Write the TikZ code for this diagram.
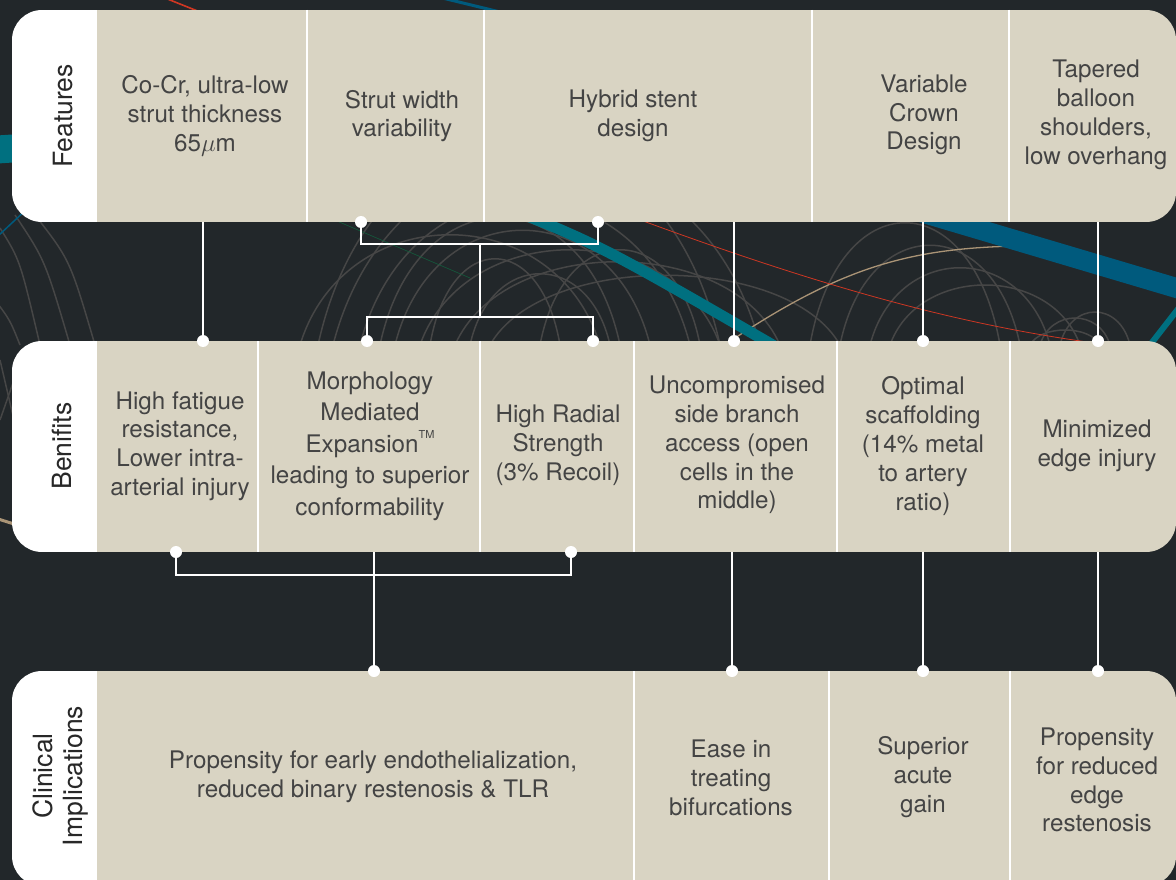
\documentclass[tikz,border=0pt]{standalone}
\usepackage{fontspec}
\setmainfont{TeX Gyre Heros}
\definecolor{bgc}{RGB}{34,39,42}
\definecolor{beigec}{RGB}{217,212,195}
\definecolor{txtc}{RGB}{68,68,68}
\definecolor{lblc}{RGB}{40,40,40}
\definecolor{arcc}{RGB}{70,70,70}
\definecolor{decoteal}{RGB}{0,112,128}
\definecolor{decoblue}{RGB}{0,90,125}
\definecolor{decored}{RGB}{205,55,35}
\definecolor{decotan}{RGB}{170,148,118}
\definecolor{decogreen}{RGB}{20,90,60}
\tikzset{
  cell/.style={rectangle, fill=beigec, draw=none, inner sep=0, anchor=north west},
  lcell/.style={rectangle, fill=white, draw=none, inner sep=0, anchor=north west},
  celltext/.style={text=txtc, font=\fontsize{24.2}{28.8}\selectfont, align=center, inner sep=0},
  bandlabel/.style={text=lblc, font=\fontsize{26.5}{30}\selectfont, rotate=90, align=center, inner sep=0},
  conn/.style={draw=white, line width=2.4pt},
  divider/.style={draw=white, line width=2pt},
  dotnode/.style={circle, fill=white, draw=none, inner sep=0, minimum size=12pt},
  decoarc/.style={draw=arcc, line width=1.5pt},
}
\begin{document}
\begin{tikzpicture}[x=1pt,y=-1pt]
\useasboundingbox (0,0) rectangle (1176,880);
\fill[bgc] (0,0) rectangle (1176,880);

% ---------- background decoration ----------
\begin{scope}
\clip (0,0) rectangle (1176,880);
\foreach \a/\b/\c in {318/720/72, 333/760/98, 360/690/152, 395/650/192, 420/720/218,
                      455/780/234, 490/840/252, 540/700/218, 300/600/198, 430/560/230,
                      380/620/175, 470/610/250,
                      810/1000/182, 840/1020/212, 870/1050/242, 890/1080/265,
                      1040/1110/309, 1060/1130/301, 1030/1100/325}
  {\draw[decoarc] (\a,345) .. controls ({\a+(\b-\a)*0.15},\c) and ({\b-(\b-\a)*0.15},\c) .. (\b,345);}
\draw[decoarc] (0,228) .. controls (20,260) .. (40,345);
\draw[decoarc] (15,215) .. controls (45,260) .. (70,345);
\draw[decoarc] (35,215) .. controls (70,260) .. (95,345);
\draw[decoarc] (-5,300) .. controls (10,320) .. (20,345);
\draw[decoarc] (0,360) -- (14,420);
\draw[decoarc] (0,420) -- (14,380);
\draw[decotan, line width=1.3pt] (720,348) .. controls (850,260) and (920,244) .. (1060,246);
\draw[decoteal, line width=11pt] (500,205) .. controls (600,245) .. (790,355);
\draw[decoteal, line width=28pt] (-10,150) -- (20,148);
\draw[decoteal, line width=6pt] (1150,345) -- (1185,300);
\draw[decoblue, line width=20pt] (880,200) -- (1200,295);
\draw[decoblue, line width=3pt] (430,-5) -- (500,12);
\draw[decoblue, line width=1.5pt] (-2,236) -- (28,208);
\draw[decored, line width=1.6pt] (160,-4) -- (200,12);
\draw[decored, line width=0.8pt] (600,205) .. controls (800,280) and (950,325) .. (1110,345);
\draw[decogreen, line width=0.6pt] (330,218) -- (470,278);
\draw[decotan, line width=3pt] (-5,518) -- (14,524);
\end{scope}

% ---------- Features band ----------
\begin{scope}
\clip[rounded corners=30] (12,10) rectangle (1176,222);
\node[lcell, minimum width=85, minimum height=212] (fL) at (12,10) {};
\node[cell, minimum width=210, minimum height=212] (f1) at (97,10) {};
\node[cell, minimum width=177, minimum height=212] (f2) at (307,10) {};
\node[cell, minimum width=328, minimum height=212] (f3) at (484,10) {};
\node[cell, minimum width=197, minimum height=212] (f4) at (812,10) {};
\node[cell, minimum width=167, minimum height=212] (f5) at (1009,10) {};
\draw[divider] (f1.north east) -- (f1.south east);
\draw[divider] (f2.north east) -- (f2.south east);
\draw[divider] (f3.north east) -- (f3.south east);
\draw[divider] (f4.north east) -- (f4.south east);
\end{scope}
\node[bandlabel] (fLt) at (63,116) {Features};
\node[celltext] (f1t) at (205,116) {Co-Cr, ultra-low\\strut thickness\\65$\mu$m};
\node[celltext] (f2t) at (402,116) {Strut width\\variability};
\node[celltext] (f3t) at (633,116) {Hybrid stent\\design};
\node[celltext] (f4t) at (924,115) {Variable\\Crown\\Design};
\node[celltext] (f5t) at (1096,115) {Tapered\\balloon\\shoulders,\\low overhang};

% ---------- Benefits band ----------
\begin{scope}
\clip[rounded corners=30] (12,341) rectangle (1176,552);
\node[lcell, minimum width=85, minimum height=211] (bL) at (12,341) {};
\node[cell, minimum width=161, minimum height=211] (b1) at (97,341) {};
\node[cell, minimum width=222, minimum height=211] (b2) at (258,341) {};
\node[cell, minimum width=154, minimum height=211] (b3) at (480,341) {};
\node[cell, minimum width=203, minimum height=211] (b4) at (634,341) {};
\node[cell, minimum width=173, minimum height=211] (b5) at (837,341) {};
\node[cell, minimum width=166, minimum height=211] (b6) at (1010,341) {};
\draw[divider] (b1.north east) -- (b1.south east);
\draw[divider] (b2.north east) -- (b2.south east);
\draw[divider] (b3.north east) -- (b3.south east);
\draw[divider] (b4.north east) -- (b4.south east);
\draw[divider] (b5.north east) -- (b5.south east);
\end{scope}
\node[bandlabel] (bLt) at (62,446) {Benifits};
\node[celltext] (b1t) at (180,446) {High fatigue\\resistance,\\Lower intra-\\arterial injury};
\node[celltext, font=\fontsize{24.2}{31.5}\selectfont] (b2t) at (370,446) {Morphology\\Mediated\\Expansion\raisebox{0.55em}{\fontsize{11}{11}\selectfont TM}\\leading to superior\\conformability};
\node[celltext] (b3t) at (558,445) {High Radial\\Strength\\(3\% Recoil)};
\node[celltext] (b4t) at (737,445) {Uncompromised\\side branch\\access (open\\cells in the\\middle)};
\node[celltext] (b5t) at (923,446) {Optimal\\scaffolding\\(14\% metal\\to artery\\ratio)};
\node[celltext] (b6t) at (1097,446) {Minimized\\edge injury};

% ---------- Clinical band ----------
\begin{scope}
\clip[rounded corners=30] (12,671) rectangle (1176,886);
\node[lcell, minimum width=85, minimum height=215] (cL) at (12,671) {};
\node[cell, minimum width=537, minimum height=215] (c1) at (97,671) {};
\node[cell, minimum width=195, minimum height=215] (c2) at (634,671) {};
\node[cell, minimum width=181, minimum height=215] (c3) at (829,671) {};
\node[cell, minimum width=166, minimum height=215] (c4) at (1010,671) {};
\draw[divider] (c1.north east) -- (c1.south east);
\draw[divider] (c2.north east) -- (c2.south east);
\draw[divider] (c3.north east) -- (c3.south east);
\end{scope}
\node[bandlabel] (cLt) at (60,776) {Clinical\\Implications};
\node[celltext] (c1t) at (373,777) {Propensity for early endothelialization,\\reduced binary restenosis \& TLR};
\node[celltext] (c2t) at (731,778) {Ease in\\treating\\bifurcations};
\node[celltext] (c3t) at (923,777) {Superior\\acute\\gain};
\node[celltext] (c4t) at (1097,780) {Propensity\\for reduced\\edge\\restenosis};

% ---------- connectors Features -> Benefits ----------
\coordinate (fa1) at (203,222);
\coordinate (fa4) at (734,222);
\coordinate (fa5) at (923,222);
\coordinate (fa6) at (1098,222);
\node[dotnode] (ba1) at (203,341) {};
\node[dotnode] (ba4) at (734,341) {};
\node[dotnode] (ba5) at (923,341) {};
\node[dotnode] (ba6) at (1098,341) {};
\draw[conn] (fa1) -- (ba1.center);
\draw[conn] (fa4) -- (ba4.center);
\draw[conn] (fa5) -- (ba5.center);
\draw[conn] (fa6) -- (ba6.center);

\node[dotnode] (s1) at (361,222) {};
\node[dotnode] (s2) at (598,222) {};
\coordinate (j1) at (480,244);
\coordinate (j2) at (480,317);
\node[dotnode] (t1) at (367,341) {};
\node[dotnode] (t2) at (593,341) {};
\draw[conn] (s1.center) |- (j1) -| (s2.center);
\draw[conn] (j1) -- (j2);
\draw[conn] (t1.center) |- (j2) -| (t2.center);

% ---------- connectors Benefits -> Clinical ----------
\node[dotnode] (u1) at (176,552) {};
\node[dotnode] (u2) at (571,552) {};
\coordinate (k1) at (374,575);
\coordinate (k0) at (374,552);
\node[dotnode] (ca1) at (374,671) {};
\draw[conn] (u1.center) |- (k1) -| (u2.center);
\draw[conn] (k0) -- (ca1.center);
\coordinate (bb4) at (732,552);
\coordinate (bb5) at (923,552);
\coordinate (bb6) at (1098,552);
\node[dotnode] (ca2) at (732,671) {};
\node[dotnode] (ca3) at (923,671) {};
\node[dotnode] (ca4) at (1098,671) {};
\draw[conn] (bb4) -- (ca2.center);
\draw[conn] (bb5) -- (ca3.center);
\draw[conn] (bb6) -- (ca4.center);
\end{tikzpicture}
\end{document}
